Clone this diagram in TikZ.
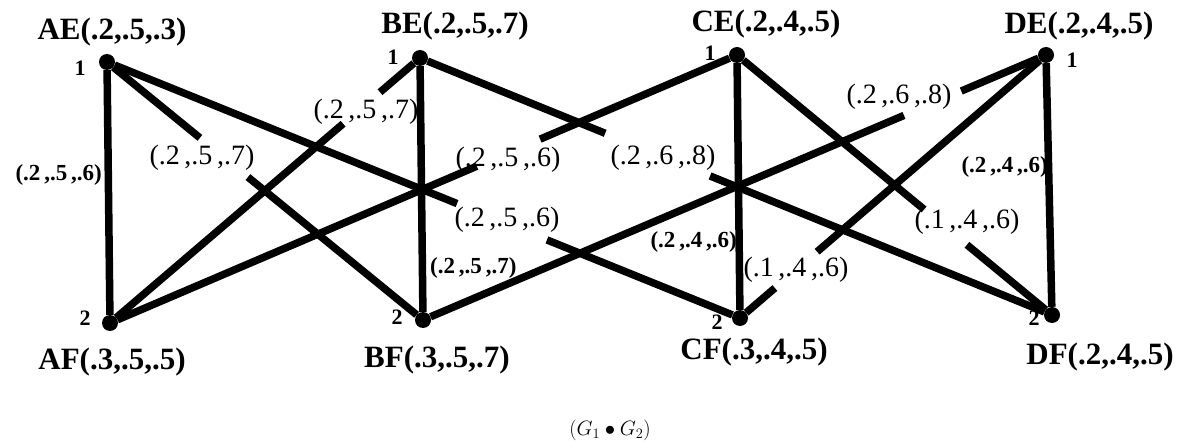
\documentclass[tikz,border=0pt]{standalone}
\usepackage{fontspec}
\setmainfont{Liberation Serif}
\usetikzlibrary{calc}
\begin{document}
\begin{tikzpicture}[x=1pt,y=-1pt,
  vtx/.style={circle,fill=black,inner sep=0pt,minimum size=16pt},
  edg/.style={line width=7.5pt},
  nlab/.style={inner sep=0pt,font=\fontsize{31}{34}\selectfont\bfseries},
  vlab/.style={inner sep=0pt,font=\fontsize{23}{26}\selectfont\bfseries},
  glab/.style={inner sep=0pt,font=\fontsize{28}{30}\selectfont},
  num/.style={inner sep=0pt,font=\fontsize{22}{24}\selectfont\bfseries}]
\useasboundingbox (0,0) rectangle (1184,441);
% vertices
\node[vtx] (AE) at (107,62) {};
\node[vtx] (BE) at (420,58) {};
\node[vtx] (CE) at (737,55) {};
\node[vtx] (DE) at (1046,55) {};
\node[vtx] (AF) at (110,323) {};
\node[vtx] (BF) at (423,320) {};
\node[vtx] (CF) at (740,318) {};
\node[vtx] (DF) at (1052,315) {};
% vertex names
\node[nlab] (tAE) at (112,32) {AE(.2,.5,.3)};
\node[nlab] (tBE) at (455,26) {BE(.2,.5,.7)};
\node[nlab] (tCE) at (766,24) {CE(.2,.4,.5)};
\node[nlab] (tDE) at (1079,26) {DE(.2,.4,.5)};
\node[nlab] (tAF) at (112,362) {AF(.3,.5,.5)};
\node[nlab] (tBF) at (437,360) {BF(.3,.5,.7)};
\node[nlab] (tCF) at (754,352) {CF(.3,.4,.5)};
\node[nlab] (tDF) at (1100,357) {DF(.2,.4,.5)};
% numbers
\node[num] (nAE) at (80,68) {1};
\node[num] (nBE) at (393,57) {1};
\node[num] (nCE) at (710,53) {1};
\node[num] (nDE) at (1072,60) {1};
\node[num] (nAF) at (85,318) {2};
\node[num] (nBF) at (397,317) {2};
\node[num] (nCF) at (717,322) {2};
\node[num] (nDF) at (1034,318) {2};
% vertical edges
\draw[edg] (AE) -- (AF);
\draw[edg] (BE) -- (BF);
\draw[edg] (CE) -- (CF);
\draw[edg] (DE) -- (DF);
\node[vlab,anchor=east] (lAA) at (102,175) {(.2\,,.5\,,.6)};
\node[vlab,anchor=west] (lBB) at (430,268) {(.2\,,.5\,,.7)};
\node[vlab,anchor=east] (lCC) at (737,242) {(.2\,,.4\,,.6)};
\node[vlab,anchor=east] (lDD) at (1048,167) {(.2\,,.4\,,.6)};
% crossing edges, broken where the label sits
\draw[edg] (AE) -- ($(AE)!.294!(BF)$) ($(AE)!.446!(BF)$) -- (BF);
\draw[edg] (BE) -- ($(BE)!.129!(AF)$) ($(BE)!.248!(AF)$) -- (AF);
\draw[edg] (AE) -- ($(AE)!.553!(CF)$) ($(AE)!.695!(CF)$) -- (CF);
\draw[edg] (CE) -- ($(CE)!.314!(AF)$) ($(CE)!.415!(AF)$) -- (AF);
\draw[edg] (BE) -- ($(BE)!.293!(DF)$) ($(BE)!.459!(DF)$) -- (DF);
\draw[edg] (BF) -- ($(BF)!.772!(DE)$) ($(BF)!.864!(DE)$) -- (DE);
\draw[edg] (CE) -- ($(CE)!.594!(DF)$) ($(CE)!.730!(DF)$) -- (DF);
\draw[edg] (CF) -- ($(CF)!.114!(DE)$) ($(CF)!.252!(DE)$) -- (DE);
\node[glab] (lAB) at (202,158) {(.2\,,.5\,,.7)};
\node[glab] (lBA) at (366,112) {(.2\,,.5\,,.7)};
\node[glab] (lAC) at (507,220) {(.2\,,.5\,,.6)};
\node[glab] (lCA) at (508,160) {(.2\,,.5\,,.6)};
\node[glab] (lBD) at (663,158) {(.2\,,.6\,,.8)};
\node[glab] (lDB) at (899,97) {(.2\,,.6\,,.8)};
\node[glab] (lCD) at (967,222) {(.1\,,.4\,,.6)};
\node[glab] (lDC) at (796,270) {(.1\,,.4\,,.6)};
% caption
\node[font=\fontsize{20}{22}\selectfont] (cap) at (610,430) {$(G_1\bullet G_2)$};
\end{tikzpicture}
\end{document}
